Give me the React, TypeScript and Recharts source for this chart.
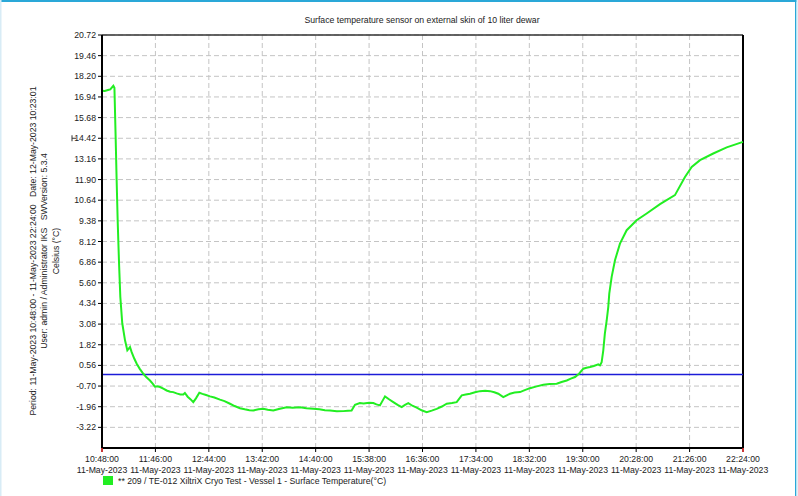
import React from "react";
import { LineChart, Line, XAxis, YAxis, CartesianGrid, ReferenceLine } from "recharts";

const FONT = "'Liberation Sans', Arial, sans-serif";

const title = "Surface temperature sensor on external skin of 10 liter dewar";
const sideLines = [
  "Period: 11-May-2023 10:48:00 - 11-May-2023 22:24:00   Date: 12-May-2023 10:23:01",
  "User: admin / Administrator IKS   SWVersion: 5.3.4",
  "Celsius (°C)",
];
const legendLabel = "** 209 / TE-012 XiltriX Cryo Test - Vessel 1 - Surface Temperature(°C)";

const xTickTimes = [
  "10:48:00", "11:46:00", "12:44:00", "13:42:00", "14:40:00", "15:38:00", "16:36:00",
  "17:34:00", "18:32:00", "19:30:00", "20:28:00", "21:26:00", "22:24:00",
];
const xTickDate = "11-May-2023";

const yTicks = [
  20.72, 19.46, 18.2, 16.94, 15.68, 14.42, 13.16, 11.9, 10.64, 9.38, 8.12, 6.86, 5.6,
  4.34, 3.08, 1.82, 0.56, -0.7, -1.96, -3.22,
];
const yMin = -4.48;
const yMax = 20.72;
const limitValue = 0;

// minutes after 10:48:00
const minutes = [
  0, 3, 6.5, 9, 12.3, 13.5, 14.8, 15.9, 17, 18.5, 19.9, 22, 25, 27.5, 30.4, 32.2, 35, 37.7,
  41, 44.9, 48, 52.1, 55, 57.5, 60, 63, 66.6, 70.2, 74, 77.4, 81, 85, 88.3, 90, 93, 96, 99.1,
  102, 105.7, 109, 113, 117.3, 122, 128.1, 133, 139, 144, 149.8, 155, 160, 164.3, 170, 175.2,
  180, 186, 192, 200.5, 207, 215, 222, 229.4, 236, 242, 247.6, 255, 262, 267, 271, 274.7, 280,
  284, 290, 294.6, 298, 301.8, 307.3, 312, 316.3, 321, 325.4, 329, 332.6, 337, 341.7, 347,
  352.6, 358, 363.4, 369, 374.3, 380, 385.1, 390.6, 395, 399.6, 405, 410.4, 416, 421.3, 426,
  430.3, 435.7, 440, 443, 448, 453.9, 459, 464.7, 472, 479.2, 486, 493.7, 499, 504.6, 509,
  513.6, 518, 522.6, 526, 529.9, 534, 538.9, 540.7, 542.5, 544.3, 546, 548, 549.7, 550.8,
  553.4, 557, 562.4, 569.7, 580.5, 591.4, 605.9, 622.1, 633, 640.3, 649.3, 663.7, 678.3, 696,
];
const temps = [
  17.32, 17.3, 17.36, 17.4, 17.62, 17.5, 14.51, 11.86, 9.42, 6.79, 4.73, 3.13, 2.09, 1.48,
  1.68, 1.37, 0.98, 0.66, 0.35, 0.05, -0.15, -0.36, -0.55, -0.74, -0.72, -0.76, -0.86, -0.97,
  -1.05, -1.07, -1.15, -1.22, -1.21, -1.12, -1.35, -1.5, -1.68, -1.45, -1.11, -1.18, -1.25,
  -1.33, -1.4, -1.53, -1.62, -1.78, -1.92, -2.05, -2.12, -2.18, -2.19, -2.12, -2.09, -2.15,
  -2.19, -2.1, -1.99, -2.02, -1.99, -2.05, -2.09, -2.12, -2.17, -2.19, -2.24, -2.23, -2.2,
  -2.19, -1.84, -1.74, -1.76, -1.72, -1.74, -1.82, -1.88, -1.33, -1.52, -1.68, -1.85, -1.99,
  -1.85, -1.74, -1.9, -2.02, -2.18, -2.29, -2.2, -2.09, -1.95, -1.78, -1.74, -1.68, -1.27,
  -1.22, -1.17, -1.08, -1.01, -0.99, -1.01, -1.08, -1.17, -1.38, -1.25, -1.17, -1.1, -1.07,
  -0.95, -0.83, -0.72, -0.62, -0.58, -0.56, -0.45, -0.36, -0.25, -0.15, 0.05, 0.36, 0.42,
  0.46, 0.52, 0.62, 0.56, 0.75, 1.48, 2.5, 3.3, 4.12, 4.94, 5.96, 6.98, 7.99, 8.81, 9.42,
  9.83, 10.4, 10.95, 12.06, 12.67, 13.08, 13.49, 13.86, 14.2,
];

const toMinutes = (s: string) => {
  const [h, m, sec] = s.split(":").map(Number);
  return h * 60 + m + sec / 60;
};
const start = toMinutes(xTickTimes[0]);
const xTicks = xTickTimes.map((t) => toMinutes(t) - start);
const xMax = xTicks[xTicks.length - 1];

const data = minutes.map((m, i) => ({ m, temp: temps[i] }));

const XTick = (props: any) => {
  const { x, y, payload } = props;
  const i = xTicks.indexOf(payload.value);
  const edge = i === 0 || i === xTicks.length - 1;
  return (
    <g>
      {edge && <line x1={x} x2={x} y1={y - 6} y2={y - 2} stroke="#e02020" strokeWidth={1.5} />}
      <text x={x} y={y + 8} textAnchor="middle" fontSize={8.7} fontFamily={FONT} fill="#222">
        {xTickTimes[i]}
      </text>
      <text x={x} y={y + 19} textAnchor="middle" fontSize={8.7} fontFamily={FONT} fill="#222">
        {xTickDate}
      </text>
    </g>
  );
};

const YTick = (props: any) => {
  const { x, y, payload } = props;
  const marked = payload.value === 14.42;
  return (
    <g>
      {marked && (
        <path d={`M${x - 24},${y - 3} v6 M${x - 24},${y} h4`} stroke="#333" strokeWidth={1} fill="none" />
      )}
      <text x={x} y={y + 3} textAnchor="end" fontSize={8.7} fontFamily={FONT} fill="#222">
        {payload.value.toFixed(2)}
      </text>
    </g>
  );
};

export default function App() {
  return (
    <div style={{ position: "absolute", left: 0, top: 0, width: 798, height: 496, background: "#fff" }}>
      <LineChart
        width={798}
        height={496}
        data={data}
        margin={{ top: 35, right: 55, left: 0, bottom: 0 }}
      >
        <CartesianGrid stroke="#c4c4c4" strokeDasharray="5 3" />
        <XAxis
          dataKey="m"
          type="number"
          domain={[0, xMax]}
          ticks={xTicks}
          interval={0}
          height={48}
          tickSize={4}
          tick={<XTick />}
          axisLine={{ stroke: "#000", strokeWidth: 2 }}
          tickLine={{ stroke: "#000" }}
        />
        <YAxis
          type="number"
          domain={[yMin, yMax]}
          ticks={yTicks}
          interval={0}
          width={102}
          tickSize={4}
          tick={<YTick />}
          axisLine={{ stroke: "#000", strokeWidth: 2 }}
          tickLine={{ stroke: "#000" }}
          allowDataOverflow
        />
        <ReferenceLine y={yMax} stroke="#333" strokeWidth={1.5} />
        <ReferenceLine x={xMax} stroke="#000" strokeWidth={2} />
        <ReferenceLine y={limitValue} stroke="#1c1cd8" strokeWidth={1.5} />
        <Line
          type="linear"
          dataKey="temp"
          stroke="#22ee22"
          strokeWidth={2}
          dot={false}
          isAnimationActive={false}
        />
      </LineChart>
      <svg
        width={798}
        height={496}
        style={{ position: "absolute", left: 0, top: 0, pointerEvents: "none" }}
        fontFamily={FONT}
      >
        <rect x={0} y={0} width={798} height={2} fill="#2aa8d8" />
        <rect x={0} y={0} width={1.5} height={496} fill="#d8ecf6" />
        <rect x={795} y={0} width={1.5} height={496} fill="#2aa8d8" />
        <rect x={796.5} y={0} width={1.5} height={496} fill="#e0f0f8" />
        <text x={422} y={22.5} textAnchor="middle" fontSize={8.7} fill="#222">
          {title}
        </text>
        {sideLines.map((s, i) => (
          <text
            key={s}
            transform={`translate(${36 + i * 11.3},251) rotate(-90)`}
            textAnchor="middle"
            fontSize={8.7}
            fill="#222"
            style={{ whiteSpace: "pre" }}
          >
            {s}
          </text>
        ))}
        <rect x={103} y={476} width={10} height={9} fill="#22ee22" />
        <text x={118} y={484} fontSize={8.7} fill="#222">
          {legendLabel}
        </text>
      </svg>
    </div>
  );
}
